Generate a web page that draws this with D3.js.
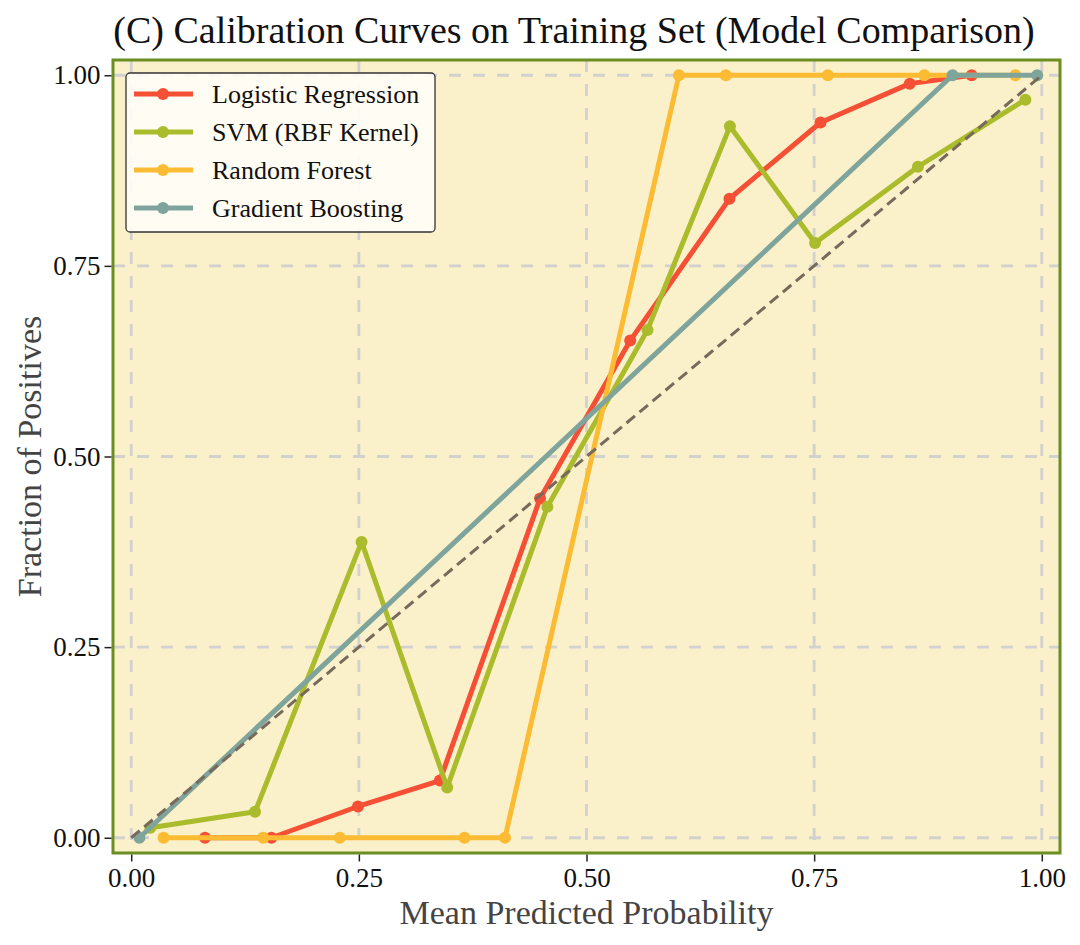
<!DOCTYPE html>
<html><head><meta charset="utf-8">
<script src="https://cdn.jsdelivr.net/npm/d3@7/dist/d3.min.js"></script>
<style>
html,body{margin:0;padding:0;background:#fff;}
svg{display:block;}
text{font-family:"Liberation Serif","Times New Roman",Times,serif;}
</style></head>
<body>
<svg id="chart" width="1080" height="945"></svg>
<script>
// ---- data ----
const seriesNames = ["Logistic Regression", "SVM (RBF Kernel)", "Random Forest", "Gradient Boosting"];
const seriesColors = ["#F54F36", "#AABB2B", "#FBBC34", "#7EA49B"];
const lrX = [0.081, 0.154, 0.249, 0.339, 0.449, 0.548, 0.657, 0.757, 0.855, 0.923];
const lrY = [0.0, 0.0, 0.041, 0.075, 0.445, 0.652, 0.838, 0.938, 0.989, 1.0];
const svmX = [0.021, 0.136, 0.253, 0.347, 0.457, 0.567, 0.6575, 0.751, 0.864, 0.982];
const svmY = [0.013, 0.034, 0.388, 0.066, 0.434, 0.666, 0.933, 0.780, 0.880, 0.968];
const rfX = [0.0355, 0.145, 0.229, 0.366, 0.4105, 0.6015, 0.653, 0.765, 0.871, 0.971];
const rfY = [0.0, 0.0, 0.0, 0.0, 0.0, 1.0, 1.0, 1.0, 1.0, 1.0];
const gbX = [0.009, 0.902, 0.995];
const gbY = [0.0, 1.0, 1.0];
const tickValues = [0.00, 0.25, 0.50, 0.75, 1.00];
const titleText = "(C) Calibration Curves on Training Set (Model Comparison)";
const xLabelText = "Mean Predicted Probability";
const yLabelText = "Fraction of Positives";

const seriesData = [
  {name: seriesNames[0], color: seriesColors[0], xs: lrX, ys: lrY},
  {name: seriesNames[1], color: seriesColors[1], xs: svmX, ys: svmY},
  {name: seriesNames[2], color: seriesColors[2], xs: rfX, ys: rfY},
  {name: seriesNames[3], color: seriesColors[3], xs: gbX, ys: gbY}
];

// ---- layout ----
const svg = d3.select("#chart");
const L = 113, R = 1060, T = 60, B = 853;
const x = d3.scaleLinear().domain([-0.02, 1.02]).range([L, R]);
const y = d3.scaleLinear().domain([-0.02, 1.02]).range([B, T]);

svg.append("rect").attr("x", L).attr("y", T).attr("width", R - L).attr("height", B - T)
  .attr("fill", "#FAF0C9");

// grid
const grid = svg.append("g");
grid.selectAll("line.gx").data(tickValues).enter().append("line")
  .attr("x1", d => x(d)).attr("x2", d => x(d)).attr("y1", T).attr("y2", B)
  .attr("stroke", "#D3D0D0").attr("stroke-width", 2.8).attr("stroke-dasharray", "12,12");
grid.selectAll("line.gy").data(tickValues).enter().append("line")
  .attr("y1", d => y(d)).attr("y2", d => y(d)).attr("x1", L).attr("x2", R)
  .attr("stroke", "#D3D0D0").attr("stroke-width", 2.8).attr("stroke-dasharray", "12,12");

// curves
const line = d3.line().x(d => x(d[0])).y(d => y(d[1]));
seriesData.forEach(s => {
  const pts = s.xs.map((v, i) => [v, s.ys[i]]);
  const g = svg.append("g");
  g.append("path").datum(pts).attr("d", line).attr("fill", "none")
    .attr("stroke", s.color).attr("stroke-width", 5).attr("stroke-linejoin", "round").attr("stroke-linecap", "butt");
  g.selectAll("circle").data(pts).enter().append("circle")
    .attr("cx", d => x(d[0])).attr("cy", d => y(d[1])).attr("r", 6).attr("fill", s.color);
});

// perfect calibration diagonal
svg.append("line").attr("x1", x(0)).attr("y1", y(0)).attr("x2", x(1)).attr("y2", y(1))
  .attr("stroke", "#77695B").attr("stroke-width", 3).attr("stroke-dasharray", "11,6");

// frame
svg.append("rect").attr("x", L).attr("y", T).attr("width", R - L).attr("height", B - T)
  .attr("fill", "none").attr("stroke", "#6B8E23").attr("stroke-width", 3);

// axes
const xAxis = d3.axisBottom(x).tickValues(tickValues).tickFormat(d3.format(".2f")).tickSize(7).tickPadding(6);
const yAxis = d3.axisLeft(y).tickValues(tickValues).tickFormat(d3.format(".2f")).tickSize(7).tickPadding(4);
const gx = svg.append("g").attr("transform", `translate(0,${B + 1.5})`).call(xAxis);
const gy = svg.append("g").attr("transform", `translate(${L - 1.5},0)`).call(yAxis);
[gx, gy].forEach(g => {
  g.select(".domain").remove();
  g.selectAll(".tick line").attr("stroke", "#222").attr("stroke-width", 1.5);
  g.selectAll(".tick text").attr("fill", "#111").style("font-size", "27px")
    .style("font-family", '"Liberation Serif","Times New Roman",Times,serif');
});

// title and labels
svg.append("text").attr("x", 574).attr("y", 43).attr("text-anchor", "middle")
  .style("font-size", "38px").attr("fill", "#111").text(titleText);
svg.append("text").attr("x", x(0.5)).attr("y", 924).attr("text-anchor", "middle")
  .style("font-size", "34px").attr("fill", "#444").text(xLabelText);
svg.append("text").attr("transform", `translate(41,${y(0.5)}) rotate(-90)`).attr("text-anchor", "middle")
  .style("font-size", "34px").attr("fill", "#444").text(yLabelText);

// legend
const lg = svg.append("g");
lg.append("rect").attr("x", 126).attr("y", 73).attr("width", 309).attr("height", 159)
  .attr("rx", 4).attr("fill", "#FFFDF7").attr("fill-opacity", 0.9)
  .attr("stroke", "#333").attr("stroke-width", 1.3);
const rowY = d3.scaleLinear().domain([0, 1]).range([94, 132]);
seriesData.forEach((s, i) => {
  const yy = rowY(i);
  lg.append("line").attr("x1", 134).attr("x2", 193).attr("y1", yy).attr("y2", yy)
    .attr("stroke", s.color).attr("stroke-width", 5);
  lg.append("circle").attr("cx", 163).attr("cy", yy).attr("r", 6).attr("fill", s.color);
  lg.append("text").attr("x", 212).attr("y", yy + 8.5).style("font-size", "26px").attr("fill", "#111").text(s.name);
});
</script>
</body></html>
